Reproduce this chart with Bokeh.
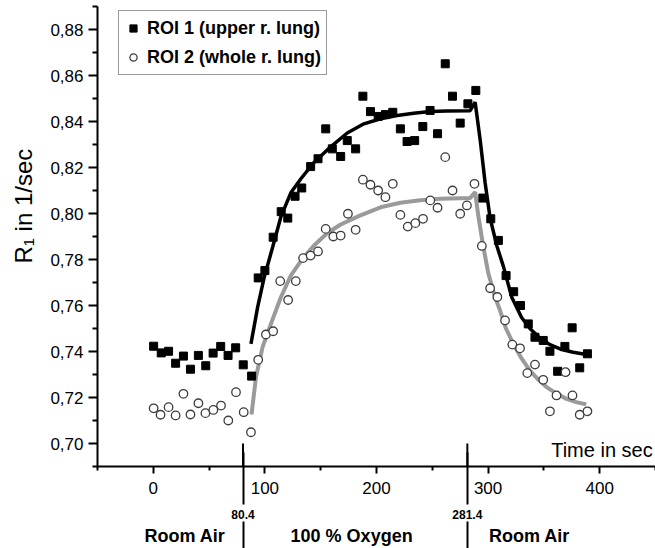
from bokeh.plotting import figure
from bokeh.models import (Range1d, FixedTicker, CustomJSTickFormatter, Label, Arrow,
                          Legend, LegendItem, ColumnDataSource, LinearAxis, Title)
from bokeh.embed import file_html
from bokeh.resources import INLINE

# ---------------- data ----------------
time_roi1 = [0.3, 7.1, 13.7, 20, 27, 33.3, 40.4, 47, 53.6, 60.4, 67, 73.8, 80.6, 88.1,
             94, 100, 107.4, 114.6, 120.5, 127, 133, 141, 147.6, 154.5, 160.4, 167.9,
             173.8, 181.3, 187.8, 194.6, 201.5, 208, 214.6, 221.4, 227.4, 234.2, 241.5,
             248, 254.7, 261.6, 268.1, 275, 281.9, 289, 295.3, 302.4, 309.2, 316.1,
             322.9, 329, 336, 342, 349.4, 355.4, 362.3, 368.8, 375.3, 382.1, 389]
r1_roi1 = [0.7423, 0.7394, 0.7401, 0.7349, 0.7380, 0.7323, 0.7383, 0.7338, 0.7393,
           0.7422, 0.7383, 0.7416, 0.7342, 0.7293,
           0.7720, 0.7752, 0.7897, 0.8008, 0.7980, 0.8075, 0.8111, 0.8204, 0.8238,
           0.8368, 0.8281, 0.8248, 0.8317, 0.8281, 0.8510, 0.8443, 0.8422, 0.8430,
           0.8440, 0.8368, 0.8313, 0.8317, 0.8378, 0.8448, 0.8347, 0.8651, 0.8510,
           0.8393, 0.8477, 0.8535, 0.8067, 0.7977, 0.7883, 0.7730, 0.7660, 0.7600,
           0.7520, 0.7462, 0.7448, 0.7401, 0.7314, 0.7422, 0.7503, 0.7329, 0.7390]

time_roi2 = [0.3, 6.5, 13.7, 20, 27, 33.3, 40.4, 46.7, 53.8, 60.7, 67.2, 74.1, 81, 87.5,
             94, 100.9, 107.4, 113.7, 120.8, 127.7, 134.2, 141, 147.6, 154.5, 161.3,
             167.9, 174.4, 181.3, 187.8, 194.6, 201.5, 208, 214.6, 221.4, 228, 234.8,
             241.7, 248.2, 254.7, 261.6, 268.1, 275, 281, 287.8, 294.4, 301.8, 308.3,
             315.2, 321.7, 328.6, 335.1, 342, 349.4, 355.4, 361.3, 369.4, 375.6, 382.1, 389]
r1_roi2 = [0.7153, 0.7125, 0.7158, 0.7122, 0.7216, 0.7126, 0.7175, 0.7132, 0.7146,
           0.7165, 0.7100, 0.7223, 0.7136, 0.7049,
           0.7364, 0.7474, 0.7488, 0.7706, 0.7624, 0.7706, 0.7806, 0.7817, 0.7835,
           0.7933, 0.7900, 0.7904, 0.7999, 0.7929, 0.8147, 0.8125, 0.8100, 0.8071,
           0.8129, 0.7994, 0.7943, 0.7958, 0.7977, 0.8057, 0.8025, 0.8245, 0.8100,
           0.7999, 0.8035, 0.8129, 0.7859, 0.7675, 0.7637, 0.7535, 0.7430, 0.7414,
           0.7306, 0.7343, 0.7277, 0.7140, 0.7209, 0.7310, 0.7209, 0.7125, 0.7140]

# fitted curves
fit1_t = [87.5, 93.5, 99.4, 106.9, 114.3, 123.2, 132.1, 144, 158.9, 173.8, 188.7, 203.6,
          218.5, 233.3, 248.2, 263, 283.9, 288.4, 292.9, 297.3, 301.8, 307.8, 313.7,
          321.2, 330, 337.5, 346, 355.4, 365, 376.2, 388]
fit1_r = [0.7433, 0.7593, 0.7723, 0.7853, 0.7985, 0.8090, 0.8150, 0.8222, 0.8290, 0.8350,
          0.8390, 0.8412, 0.8426, 0.8436, 0.8443, 0.8446, 0.8447, 0.8484, 0.8320, 0.8135,
          0.7980, 0.7860, 0.7770, 0.7636, 0.7548, 0.7500, 0.7460, 0.7430, 0.7410, 0.7397,
          0.7387]
fit2_t = [88, 92, 97.9, 105.4, 114.3, 123.2, 133.6, 144, 156, 167.9, 185, 203.6, 221.4,
          239.3, 257.1, 283.9, 288.4, 291.4, 295.8, 300.3, 306.3, 310.7, 316, 322.6, 330,
          337.5, 345, 352.4, 361, 370.2, 379, 388]
fit2_r = [0.7126, 0.7288, 0.7419, 0.7520, 0.7636, 0.7730, 0.7803, 0.7861, 0.7915, 0.7952,
          0.7991, 0.8027, 0.8047, 0.8058, 0.8064, 0.8067, 0.8093, 0.7984, 0.7853, 0.7738,
          0.7636, 0.7578, 0.7500, 0.7433, 0.7370, 0.7317, 0.7278, 0.7245, 0.7218, 0.7194,
          0.7180, 0.7170]

x_major_ticks = [0, 100, 200, 300, 400]
x_minor_ticks = [-50, 50, 150, 250, 350, 450]
y_major_ticks = [0.70, 0.72, 0.74, 0.76, 0.78, 0.80, 0.82, 0.84, 0.86, 0.88]
y_minor_ticks = [0.69, 0.71, 0.73, 0.75, 0.77, 0.79, 0.81, 0.83, 0.85, 0.87, 0.89]

phase_boundaries = [80.4, 281.4]
phase_centers = [28.4, 177.7, 337.0]
phase_names = ["Room Air", "100 % Oxygen", "Room Air"]
series_names = ["ROI 1 (upper r. lung)", "ROI 2 (whole r. lung)"]

FONT = "Liberation Sans"

# ---------------- figure ----------------
p = figure(width=655, height=548, output_backend="svg", toolbar_location=None,
           x_range=Range1d(-50, 450), y_range=Range1d(0.69, 0.89),
           min_border_left=96, min_border_right=0, min_border_top=6, min_border_bottom=82)
p.outline_line_color = None
p.grid.visible = False
p.background_fill_color = "white"
p.border_fill_color = "white"

# main x axis: line + ticks (labels come from the next axis)
xa = p.xaxis[0]
xa.ticker = FixedTicker(ticks=x_major_ticks, minor_ticks=x_minor_ticks)
xa.formatter = CustomJSTickFormatter(code="return '';")
xa.major_label_text_font_size = "0px"
xa.major_label_standoff = 0
xa.axis_line_width = 2
xa.major_tick_line_width = 2
xa.minor_tick_line_width = 2
xa.major_tick_in = 0
xa.major_tick_out = 7
xa.minor_tick_in = 0
xa.minor_tick_out = 4

# tick labels 0..400
ax_lab = LinearAxis(ticker=FixedTicker(ticks=x_major_ticks, minor_ticks=[]))
ax_lab.axis_line_color = None
ax_lab.major_tick_line_color = None
ax_lab.minor_tick_line_color = None
ax_lab.major_tick_in = 0
ax_lab.major_tick_out = 0
ax_lab.minor_tick_in = 0
ax_lab.minor_tick_out = 0
ax_lab.major_label_standoff = 8
ax_lab.major_label_text_font = FONT
ax_lab.major_label_text_font_size = "17px"
ax_lab.major_label_text_color = "black"
p.add_layout(ax_lab, "below")

# boundary values 80.4 / 281.4, their lines reach up to the main axis
ax_bnd = LinearAxis(ticker=FixedTicker(ticks=phase_boundaries, minor_ticks=[]))
ax_bnd.formatter = CustomJSTickFormatter(code="return tick.toFixed(1);")
ax_bnd.axis_line_color = None
ax_bnd.major_tick_line_color = "black"
ax_bnd.major_tick_line_width = 2
ax_bnd.major_tick_in = 44
ax_bnd.major_tick_out = 8
ax_bnd.minor_tick_line_color = None
ax_bnd.minor_tick_in = 0
ax_bnd.minor_tick_out = 0
ax_bnd.major_label_standoff = 5
ax_bnd.major_label_text_font = FONT
ax_bnd.major_label_text_font_size = "12px"
ax_bnd.major_label_text_font_style = "bold"
ax_bnd.major_label_text_color = "black"
p.add_layout(ax_bnd, "below")

# phase names, boundary lines continue to the bottom edge
ax_ph = LinearAxis(ticker=FixedTicker(ticks=phase_centers, minor_ticks=phase_boundaries))
ax_ph.formatter = CustomJSTickFormatter(
    args=dict(centers=phase_centers, names=phase_names),
    code="""let best = 0;
for (let i = 1; i < centers.length; i++) {
  if (Math.abs(centers[i] - tick) < Math.abs(centers[best] - tick)) best = i;
}
return names[best];""")
ax_ph.axis_line_color = None
ax_ph.major_tick_line_color = None
ax_ph.major_tick_in = 0
ax_ph.major_tick_out = 0
ax_ph.minor_tick_in = 0
ax_ph.minor_tick_out = 40
ax_ph.minor_tick_line_width = 2
ax_ph.minor_tick_line_color = "black"
ax_ph.major_label_standoff = -36
ax_ph.major_label_text_font = FONT
ax_ph.major_label_text_font_size = "18px"
ax_ph.major_label_text_font_style = "bold"
ax_ph.major_label_text_color = "black"
p.add_layout(ax_ph, "below")

# y axis
ya = p.yaxis[0]
ya.ticker = FixedTicker(ticks=y_major_ticks, minor_ticks=y_minor_ticks)
ya.formatter = CustomJSTickFormatter(code="return tick.toFixed(2).replace('.', ',');")
ya.axis_line_width = 2
ya.major_tick_line_width = 2
ya.minor_tick_line_width = 2
ya.major_tick_in = 0
ya.major_tick_out = 9
ya.minor_tick_in = 0
ya.minor_tick_out = 5
ya.major_label_standoff = 5
ya.major_label_text_font = FONT
ya.major_label_text_font_size = "17px"
ya.major_label_text_color = "black"

p.add_layout(Title(text="R\u2081 in 1/sec", align="left", offset=203, standoff=18,
                   vertical_align="top",
                   text_font=FONT, text_font_size="24px", text_font_style="normal",
                   text_color="black"), "left")

# fitted curves
p.line(fit2_t, fit2_r, line_color="#9a9a9a", line_width=4)
p.line(fit1_t, fit1_r, line_color="black", line_width=3.5)

# measured points
src1 = ColumnDataSource(dict(t=time_roi1, r=r1_roi1))
src2 = ColumnDataSource(dict(t=time_roi2, r=r1_roi2))
r_sq = p.scatter("t", "r", source=src1, marker="square", size=8,
                 fill_color="black", line_color="black", line_width=1)
r_ci = p.scatter("t", "r", source=src2, marker="circle", size=8.5,
                 fill_color="white", line_color="#3c3c3c", line_width=1.3)

legend = Legend(items=[LegendItem(label=series_names[0], renderers=[r_sq]),
                       LegendItem(label=series_names[1], renderers=[r_ci])],
                location=(21, 391), orientation="vertical")
legend.label_text_font = FONT
legend.label_text_font_style = "bold"
legend.label_text_font_size = "18px"
legend.label_text_color = "black"
legend.border_line_color = "#333333"
legend.border_line_width = 1
legend.background_fill_color = "white"
legend.background_fill_alpha = 1
legend.padding = 5
legend.spacing = 5
legend.margin = 0
legend.glyph_width = 18
legend.glyph_height = 24
legend.label_height = 24
legend.label_standoff = 5
p.add_layout(legend, "center")

# x axis title inside plot
p.add_layout(Label(x=447.5, y=0.697, text="Time in sec", text_align="right",
                   text_baseline="middle", text_font=FONT, text_font_size="20px",
                   text_color="black"))

# phase boundary lines above the axis
for xb in phase_boundaries:
    p.add_layout(Arrow(end=None, x_start=xb, y_start=0.70, x_end=xb, y_end=0.69,
                       line_color="black", line_width=2))

open("out.html", "w").write(file_html(p, INLINE))
